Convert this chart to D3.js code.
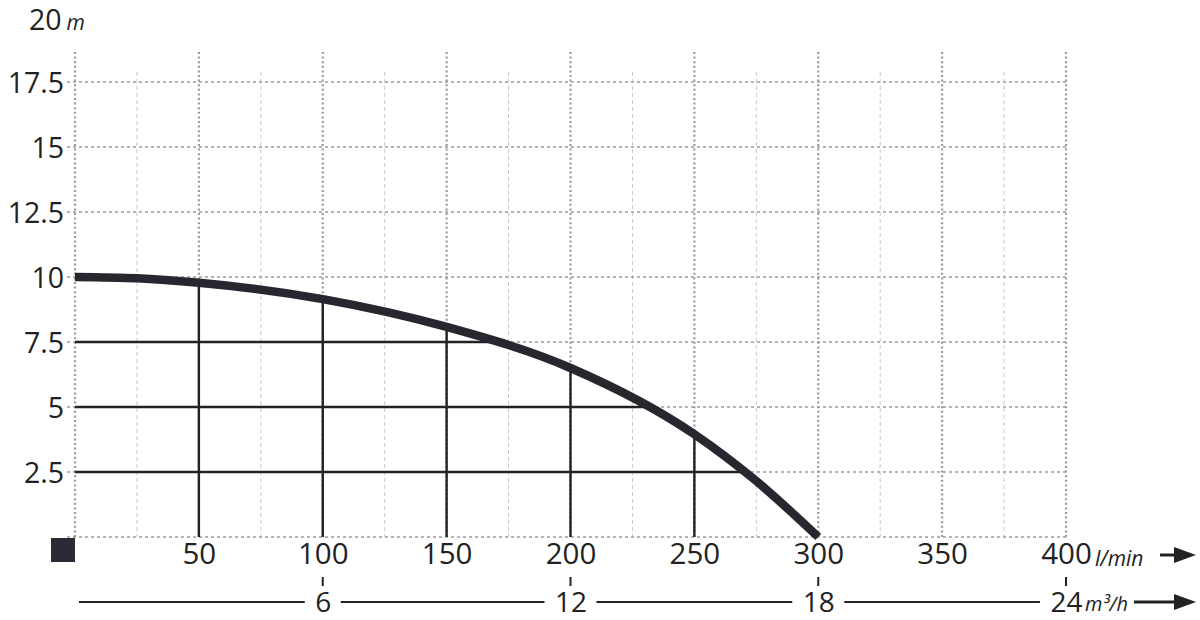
<!DOCTYPE html>
<html lang="en">
<head>
    <meta charset="utf-8">
    <title>Pump curve</title>
    <script src="https://cdn.jsdelivr.net/npm/d3@7"></script>
    <style>
        body { margin: 0; background: #fff; }
        svg text { font-family: "Open Sans", "Noto Sans", sans-serif; fill: #222; }
    </style>
</head>
<body>
    <script>
        // data
        var flowTicks = [50, 100, 150, 200, 250, 300, 350, 400];     // l/min
        var flowMinor = [25, 75, 125, 175, 225, 275, 325, 375];
        var headTicks = [2.5, 5, 7.5, 10, 12.5, 15, 17.5];            // m
        var m3hTicks = [6, 12, 18, 24];                               // m3/h
        var curveFlow = [0, 25, 50, 100, 150, 200, 250, 275, 300];
        var curveHead = [10, 9.95, 9.78, 9.15, 8.08, 6.5, 3.95, 2.15, 0];

        var w = 1200, h = 620;
        var gridTop = 52, minorTop = 72;
        var ink = "#222";
        var fmt = function (d) { return String(d); };

        var x = d3.scaleLinear().domain([0, 400]).range([75, 1066]);
        var y = d3.scaleLinear().domain([0, 20]).range([537, 17]);
        var x2 = d3.scaleLinear().domain([0, 24]).range([75, 1066]);

        var svg = d3.select("body").append("svg")
            .attr("width", w)
            .attr("height", h);

        var pts = curveFlow.map(function (q, i) { return [q, curveHead[i]]; });

        // clip: area under the curve
        svg.append("clipPath").attr("id", "under")
            .append("path")
            .attr("d", d3.area()
                .x(function (d) { return x(d[0]); })
                .y0(y(0))
                .y1(function (d) { return y(d[1]); })
                .curve(d3.curveMonotoneX)(pts));

        // light grid
        svg.append("g").selectAll("line")
            .data(flowMinor).enter().append("line")
            .attr("x1", x).attr("x2", x)
            .attr("y1", minorTop).attr("y2", y(0))
            .attr("stroke", "#c9c9c9").attr("stroke-width", 1)
            .attr("stroke-dasharray", "4,3");

        svg.append("g").selectAll("line")
            .data([0].concat(headTicks)).enter().append("line")
            .attr("x1", x(0) - 8).attr("x2", x(400))
            .attr("y1", y).attr("y2", y)
            .attr("stroke", "#9c9c9c").attr("stroke-width", 1.5)
            .attr("stroke-dasharray", "3,3");

        svg.append("g").selectAll("line")
            .data([0].concat(flowTicks)).enter().append("line")
            .attr("x1", x).attr("x2", x)
            .attr("y1", gridTop).attr("y2", y(0))
            .attr("stroke", "#9a9a9a").attr("stroke-width", 2.2)
            .attr("stroke-dasharray", "2,2.6");

        // solid grid under the curve
        var solid = svg.append("g").attr("clip-path", "url(#under)");
        solid.selectAll("line.v")
            .data(flowTicks).enter().append("line")
            .attr("class", "v")
            .attr("x1", x).attr("x2", x)
            .attr("y1", y(20)).attr("y2", y(0))
            .attr("stroke", ink).attr("stroke-width", 2.4);
        solid.selectAll("line.h")
            .data(headTicks).enter().append("line")
            .attr("class", "h")
            .attr("x1", x(0)).attr("x2", x(400))
            .attr("y1", y).attr("y2", y)
            .attr("stroke", ink).attr("stroke-width", 2.4);

        // pump curve
        svg.append("path")
            .datum(pts)
            .attr("fill", "none")
            .attr("stroke", "#27272f")
            .attr("stroke-width", 8.5)
            .attr("d", d3.line()
                .x(function (d) { return x(d[0]); })
                .y(function (d) { return y(d[1]); })
                .curve(d3.curveMonotoneX));

        // origin marker
        svg.append("rect")
            .attr("x", x(0) - 24).attr("y", y(0) + 1)
            .attr("width", 24).attr("height", 24)
            .attr("fill", "#2b2b35");

        // y axis labels
        var yAxis = svg.append("g")
            .attr("transform", "translate(" + (x(0) - 11) + ",0)")
            .call(d3.axisLeft(y).tickValues(headTicks).tickFormat(fmt).tickSize(0).tickPadding(0));
        yAxis.attr("font-family", null);
        yAxis.select(".domain").remove();
        yAxis.selectAll("text").style("font-size", "28.5px").attr("dy", "0.36em");

        var topLabel = svg.append("text")
            .attr("x", 29).attr("y", y(20) + 13)
            .style("font-size", "28.5px");
        topLabel.append("tspan").text("20");
        topLabel.append("tspan").attr("dx", 5)
            .style("font-size", "21px").style("font-style", "italic").text("m");

        // l/min axis
        var xAxis = svg.append("g")
            .attr("transform", "translate(0," + y(0) + ")")
            .call(d3.axisBottom(x).tickValues(flowTicks).tickFormat(fmt).tickSize(0).tickPadding(6));
        xAxis.attr("font-family", null);
        xAxis.select(".domain").remove();
        xAxis.selectAll("text").style("font-size", "29.5px");

        svg.append("text")
            .attr("x", x(400) + 29).attr("y", y(0) + 29)
            .style("font-size", "21px").style("font-style", "italic")
            .text("l/min");

        function arrow(x0, x1, yy) {
            svg.append("line")
                .attr("x1", x0).attr("x2", x1 - 14)
                .attr("y1", yy).attr("y2", yy)
                .attr("stroke", ink).attr("stroke-width", 3);
            svg.append("path")
                .attr("d", "M" + (x1 - 22) + "," + (yy - 8) + "L" + x1 + "," + yy + "L" + (x1 - 22) + "," + (yy + 8) + "Z")
                .attr("fill", ink);
        }
        arrow(1160, 1196, 555);

        // m3/h axis
        var yb = 602;
        var x2Axis = svg.append("g")
            .attr("transform", "translate(0," + yb + ")")
            .call(d3.axisBottom(x2).tickValues(m3hTicks).tickFormat(fmt).tickSize(0).tickPadding(0));
        x2Axis.attr("font-family", null);
        x2Axis.select(".domain").remove();
        x2Axis.selectAll("text").style("font-size", "28px").attr("dy", "0.34em");

        svg.append("g").selectAll("line")
            .data(m3hTicks).enter().append("line")
            .attr("x1", x2).attr("x2", x2)
            .attr("y1", 577).attr("y2", 586)
            .attr("stroke", ink).attr("stroke-width", 2);

        var unit = svg.append("text")
            .attr("x", x2(24) + 19).attr("y", yb + 9)
            .style("font-size", "20px").style("font-style", "italic")
            .text("m³/h");

        // line pieces between the labels
        var boxes = [];
        x2Axis.selectAll("text").each(function (d) {
            var b = this.getBBox();
            boxes.push([x2(d) + b.x, x2(d) + b.x + b.width]);
        });
        var ub = unit.node().getBBox();
        boxes[boxes.length - 1][1] = ub.x + ub.width;
        var start = 79;
        boxes.forEach(function (b) {
            svg.append("line")
                .attr("x1", start).attr("x2", b[0] - 10)
                .attr("y1", yb).attr("y2", yb)
                .attr("stroke", ink).attr("stroke-width", 2.2);
            start = b[1] + 10;
        });
        arrow(start - 4, 1196, yb);
    </script>
</body>
</html>
